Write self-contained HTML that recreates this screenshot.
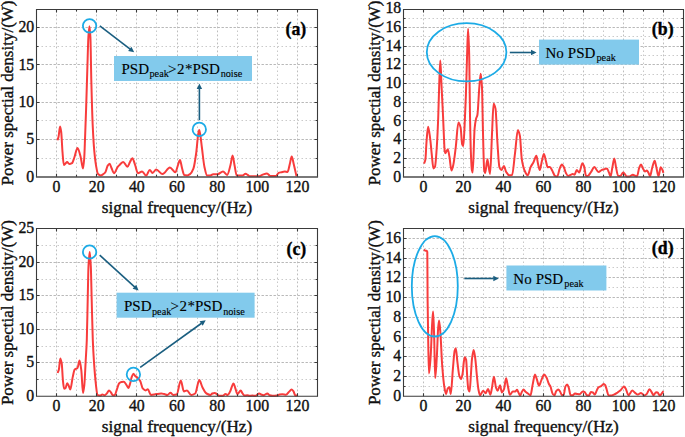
<!DOCTYPE html><html><head><meta charset="utf-8"><style>html,body{margin:0;padding:0;background:#fff;}svg{display:block;}text{font-family:"Liberation Serif",serif;stroke:#000;stroke-width:0.35px;paint-order:stroke;} text.bx{stroke-width:0.12px;}</style></head><body>
<svg width="685" height="437" viewBox="0 0 685 437">
<rect width="685" height="437" fill="#fff"/>
<line x1="56.50" y1="10.50" x2="56.50" y2="175.80" stroke="#bdbdbd" stroke-width="1" stroke-dasharray="1.8,2.2"/>
<line x1="76.50" y1="10.50" x2="76.50" y2="175.80" stroke="#c8c8c8" stroke-width="1" stroke-dasharray="1.5,2.5"/>
<line x1="96.50" y1="10.50" x2="96.50" y2="175.80" stroke="#bdbdbd" stroke-width="1" stroke-dasharray="1.8,2.2"/>
<line x1="116.50" y1="10.50" x2="116.50" y2="175.80" stroke="#c8c8c8" stroke-width="1" stroke-dasharray="1.5,2.5"/>
<line x1="136.50" y1="10.50" x2="136.50" y2="175.80" stroke="#bdbdbd" stroke-width="1" stroke-dasharray="1.8,2.2"/>
<line x1="156.50" y1="10.50" x2="156.50" y2="175.80" stroke="#c8c8c8" stroke-width="1" stroke-dasharray="1.5,2.5"/>
<line x1="177.50" y1="10.50" x2="177.50" y2="175.80" stroke="#bdbdbd" stroke-width="1" stroke-dasharray="1.8,2.2"/>
<line x1="197.50" y1="10.50" x2="197.50" y2="175.80" stroke="#c8c8c8" stroke-width="1" stroke-dasharray="1.5,2.5"/>
<line x1="217.50" y1="10.50" x2="217.50" y2="175.80" stroke="#bdbdbd" stroke-width="1" stroke-dasharray="1.8,2.2"/>
<line x1="237.50" y1="10.50" x2="237.50" y2="175.80" stroke="#c8c8c8" stroke-width="1" stroke-dasharray="1.5,2.5"/>
<line x1="257.50" y1="10.50" x2="257.50" y2="175.80" stroke="#bdbdbd" stroke-width="1" stroke-dasharray="1.8,2.2"/>
<line x1="277.50" y1="10.50" x2="277.50" y2="175.80" stroke="#c8c8c8" stroke-width="1" stroke-dasharray="1.5,2.5"/>
<line x1="297.50" y1="10.50" x2="297.50" y2="175.80" stroke="#bdbdbd" stroke-width="1" stroke-dasharray="1.8,2.2"/>
<line x1="37.50" y1="158.50" x2="316.50" y2="158.50" stroke="#cacaca" stroke-width="1" stroke-dasharray="1.5,2.5"/>
<line x1="37.50" y1="139.50" x2="316.50" y2="139.50" stroke="#b8b8b8" stroke-width="1" stroke-dasharray="2.4,1.6"/>
<line x1="37.50" y1="120.50" x2="316.50" y2="120.50" stroke="#cacaca" stroke-width="1" stroke-dasharray="1.5,2.5"/>
<line x1="37.50" y1="102.50" x2="316.50" y2="102.50" stroke="#b8b8b8" stroke-width="1" stroke-dasharray="2.4,1.6"/>
<line x1="37.50" y1="83.50" x2="316.50" y2="83.50" stroke="#cacaca" stroke-width="1" stroke-dasharray="1.5,2.5"/>
<line x1="37.50" y1="64.50" x2="316.50" y2="64.50" stroke="#b8b8b8" stroke-width="1" stroke-dasharray="2.4,1.6"/>
<line x1="37.50" y1="46.50" x2="316.50" y2="46.50" stroke="#cacaca" stroke-width="1" stroke-dasharray="1.5,2.5"/>
<line x1="37.50" y1="27.50" x2="316.50" y2="27.50" stroke="#b8b8b8" stroke-width="1" stroke-dasharray="2.4,1.6"/>
<path d="M57.40,140.30 C57.77,139.20 58.13,138.48 58.50,137.00 C59.03,134.85 59.57,126.50 60.10,126.50 C60.47,126.50 60.83,129.27 61.20,132.00 C61.63,135.22 62.07,146.75 62.50,152.00 C62.93,157.25 63.37,165.00 63.80,165.00 C64.37,165.00 64.93,164.03 65.50,163.50 C66.03,163.00 66.57,161.90 67.10,161.90 C67.83,161.90 68.57,164.00 69.30,164.00 C70.20,164.00 71.10,163.68 72.00,163.20 C72.83,162.75 73.67,159.26 74.50,157.00 C75.50,154.29 76.50,148.00 77.50,148.00 C78.53,148.00 79.57,152.95 80.60,156.70 C81.40,159.60 82.20,168.60 83.00,168.60 C83.40,168.60 83.80,163.62 84.20,158.50 C84.50,154.66 84.80,144.35 85.10,136.60 C85.43,127.99 85.77,118.93 86.10,109.00 C86.50,97.09 86.90,82.47 87.30,70.00 C87.67,58.57 88.03,42.78 88.40,37.00 C88.73,31.75 89.07,26.20 89.40,26.20 C89.73,26.20 90.07,31.06 90.40,37.00 C90.70,42.34 91.00,68.39 91.30,80.00 C91.80,99.35 92.30,116.84 92.80,127.40 C93.30,137.96 93.80,145.76 94.30,151.20 C94.90,157.73 95.50,162.53 96.10,165.90 C96.73,169.46 97.37,173.39 98.00,174.00 C98.90,174.87 99.80,175.40 100.70,175.40 C101.60,175.40 102.50,174.61 103.40,174.00 C104.10,173.52 104.80,173.02 105.50,172.00 C106.17,171.03 106.83,167.07 107.50,166.00 C108.20,164.87 108.90,163.70 109.60,163.70 C110.23,163.70 110.87,166.62 111.50,168.00 C112.33,169.81 113.17,173.20 114.00,173.20 C115.23,173.20 116.47,168.33 117.70,166.80 C118.47,165.85 119.23,165.19 120.00,164.50 C121.07,163.54 122.13,161.90 123.20,161.90 C124.60,161.90 126.00,166.80 127.40,166.80 C128.27,166.80 129.13,163.48 130.00,162.00 C130.80,160.64 131.60,158.20 132.40,158.20 C133.30,158.20 134.20,162.56 135.10,165.00 C136.03,167.53 136.97,173.20 137.90,173.20 C139.30,173.20 140.70,171.40 142.10,171.40 C143.43,171.40 144.77,175.60 146.10,175.60 C147.33,175.60 148.57,169.90 149.80,169.90 C150.70,169.90 151.60,172.90 152.50,172.90 C153.73,172.90 154.97,169.60 156.20,169.60 C158.33,169.60 160.47,174.10 162.60,174.10 C165.03,174.10 167.47,167.40 169.90,167.40 C171.73,167.40 173.57,172.30 175.40,172.30 C176.27,172.30 177.13,167.29 178.00,165.00 C178.67,163.24 179.33,160.00 180.00,160.00 C180.67,160.00 181.33,165.63 182.00,168.00 C182.73,170.60 183.47,174.81 184.20,175.00 C185.23,175.27 186.27,175.40 187.30,175.40 C188.20,175.40 189.10,174.81 190.00,174.20 C191.13,173.43 192.27,171.60 193.40,168.70 C194.33,166.31 195.27,159.68 196.20,153.00 C196.83,148.46 197.47,138.83 198.10,135.00 C198.47,132.78 198.83,129.90 199.20,129.90 C199.57,129.90 199.93,132.90 200.30,135.00 C200.83,138.06 201.37,143.37 201.90,147.50 C202.73,153.96 203.57,162.92 204.40,166.70 C205.33,170.93 206.27,175.60 207.20,175.60 C208.10,175.60 209.00,175.60 209.90,175.60 C211.03,175.60 212.17,174.20 213.30,174.20 C214.70,174.20 216.10,174.20 217.50,174.20 C219.33,174.20 221.17,171.50 223.00,171.50 C224.37,171.50 225.73,174.90 227.10,174.90 C228.23,174.90 229.37,169.10 230.50,165.00 C231.20,162.47 231.90,155.40 232.60,155.40 C233.23,155.40 233.87,161.87 234.50,165.00 C235.23,168.62 235.97,175.60 236.70,175.60 C238.53,175.60 240.37,175.60 242.20,175.60 C243.33,175.60 244.47,173.80 245.60,173.80 C246.30,173.80 247.00,174.49 247.70,174.90 C248.40,175.31 249.10,176.30 249.80,176.30 C252.77,176.30 255.73,176.30 258.70,176.30 C259.87,176.30 261.03,175.30 262.20,174.90 C263.80,174.36 265.40,173.50 267.00,173.50 C268.13,173.50 269.27,176.00 270.40,176.00 C272.23,176.00 274.07,176.00 275.90,176.00 C276.80,176.00 277.70,173.27 278.60,172.90 C279.53,172.52 280.47,172.41 281.40,172.20 C282.53,171.94 283.67,171.50 284.80,171.50 C285.73,171.50 286.67,171.90 287.60,171.90 C288.33,171.90 289.07,166.78 289.80,164.00 C290.43,161.60 291.07,156.40 291.70,156.40 C292.37,156.40 293.03,161.29 293.70,164.00 C294.63,167.79 295.57,172.20 296.50,176.30" fill="none" stroke="#f83c3c" stroke-width="2.0" stroke-linejoin="round"/>
<path d="M36.50,177.00 V9.50 H317.50 V177.00" fill="none" stroke="#3a3a3a" stroke-width="1.1"/>
<line x1="35.95" y1="177.00" x2="318.05" y2="177.00" stroke="#4c4c4c" stroke-width="1.60"/>
<path d="M56.50,176.80v-3.0 M56.50,9.50v3.0 M76.50,176.80v-2.0 M76.50,9.50v2.0 M96.50,176.80v-3.0 M96.50,9.50v3.0 M116.50,176.80v-2.0 M116.50,9.50v2.0 M136.50,176.80v-3.0 M136.50,9.50v3.0 M156.50,176.80v-2.0 M156.50,9.50v2.0 M177.50,176.80v-3.0 M177.50,9.50v3.0 M197.50,176.80v-2.0 M197.50,9.50v2.0 M217.50,176.80v-3.0 M217.50,9.50v3.0 M237.50,176.80v-2.0 M237.50,9.50v2.0 M257.50,176.80v-3.0 M257.50,9.50v3.0 M277.50,176.80v-2.0 M277.50,9.50v2.0 M297.50,176.80v-3.0 M297.50,9.50v3.0 M36.50,158.50h2.0 M317.50,158.50h-2.0 M36.50,139.50h3.0 M317.50,139.50h-3.0 M36.50,120.50h2.0 M317.50,120.50h-2.0 M36.50,102.50h3.0 M317.50,102.50h-3.0 M36.50,83.50h2.0 M317.50,83.50h-2.0 M36.50,64.50h3.0 M317.50,64.50h-3.0 M36.50,46.50h2.0 M317.50,46.50h-2.0 M36.50,27.50h3.0 M317.50,27.50h-3.0" stroke="#3a3a3a" stroke-width="1.1" fill="none"/>
<text x="56.57" y="191.60" font-size="15.8" text-anchor="middle" fill="#111">0</text>
<text x="96.71" y="191.60" font-size="15.8" text-anchor="middle" fill="#111">20</text>
<text x="136.86" y="191.60" font-size="15.8" text-anchor="middle" fill="#111">40</text>
<text x="177.00" y="191.60" font-size="15.8" text-anchor="middle" fill="#111">60</text>
<text x="217.14" y="191.60" font-size="15.8" text-anchor="middle" fill="#111">80</text>
<text x="257.29" y="191.60" font-size="15.8" text-anchor="middle" fill="#111">100</text>
<text x="297.43" y="191.60" font-size="15.8" text-anchor="middle" fill="#111">120</text>
<text x="34.20" y="181.60" font-size="15.8" text-anchor="end" fill="#111">0</text>
<text x="34.20" y="144.25" font-size="15.8" text-anchor="end" fill="#111">5</text>
<text x="34.20" y="106.90" font-size="15.8" text-anchor="end" fill="#111">10</text>
<text x="34.20" y="69.55" font-size="15.8" text-anchor="end" fill="#111">15</text>
<text x="34.20" y="32.20" font-size="15.8" text-anchor="end" fill="#111">20</text>
<text x="177.00" y="212.50" font-size="17.2" text-anchor="middle" fill="#111">signal frequency/(Hz)</text>
<line x1="423.50" y1="10.50" x2="423.50" y2="175.80" stroke="#bdbdbd" stroke-width="1" stroke-dasharray="1.8,2.2"/>
<line x1="443.50" y1="10.50" x2="443.50" y2="175.80" stroke="#c8c8c8" stroke-width="1" stroke-dasharray="1.5,2.5"/>
<line x1="463.50" y1="10.50" x2="463.50" y2="175.80" stroke="#bdbdbd" stroke-width="1" stroke-dasharray="1.8,2.2"/>
<line x1="483.50" y1="10.50" x2="483.50" y2="175.80" stroke="#c8c8c8" stroke-width="1" stroke-dasharray="1.5,2.5"/>
<line x1="503.50" y1="10.50" x2="503.50" y2="175.80" stroke="#bdbdbd" stroke-width="1" stroke-dasharray="1.8,2.2"/>
<line x1="523.50" y1="10.50" x2="523.50" y2="175.80" stroke="#c8c8c8" stroke-width="1" stroke-dasharray="1.5,2.5"/>
<line x1="543.50" y1="10.50" x2="543.50" y2="175.80" stroke="#bdbdbd" stroke-width="1" stroke-dasharray="1.8,2.2"/>
<line x1="563.50" y1="10.50" x2="563.50" y2="175.80" stroke="#c8c8c8" stroke-width="1" stroke-dasharray="1.5,2.5"/>
<line x1="583.50" y1="10.50" x2="583.50" y2="175.80" stroke="#bdbdbd" stroke-width="1" stroke-dasharray="1.8,2.2"/>
<line x1="603.50" y1="10.50" x2="603.50" y2="175.80" stroke="#c8c8c8" stroke-width="1" stroke-dasharray="1.5,2.5"/>
<line x1="623.50" y1="10.50" x2="623.50" y2="175.80" stroke="#bdbdbd" stroke-width="1" stroke-dasharray="1.8,2.2"/>
<line x1="643.50" y1="10.50" x2="643.50" y2="175.80" stroke="#c8c8c8" stroke-width="1" stroke-dasharray="1.5,2.5"/>
<line x1="663.50" y1="10.50" x2="663.50" y2="175.80" stroke="#bdbdbd" stroke-width="1" stroke-dasharray="1.8,2.2"/>
<line x1="404.50" y1="167.50" x2="682.50" y2="167.50" stroke="#cacaca" stroke-width="1" stroke-dasharray="1.5,2.5"/>
<line x1="404.50" y1="158.50" x2="682.50" y2="158.50" stroke="#b8b8b8" stroke-width="1" stroke-dasharray="2.4,1.6"/>
<line x1="404.50" y1="148.50" x2="682.50" y2="148.50" stroke="#cacaca" stroke-width="1" stroke-dasharray="1.5,2.5"/>
<line x1="404.50" y1="139.50" x2="682.50" y2="139.50" stroke="#b8b8b8" stroke-width="1" stroke-dasharray="2.4,1.6"/>
<line x1="404.50" y1="130.50" x2="682.50" y2="130.50" stroke="#cacaca" stroke-width="1" stroke-dasharray="1.5,2.5"/>
<line x1="404.50" y1="120.50" x2="682.50" y2="120.50" stroke="#b8b8b8" stroke-width="1" stroke-dasharray="2.4,1.6"/>
<line x1="404.50" y1="111.50" x2="682.50" y2="111.50" stroke="#cacaca" stroke-width="1" stroke-dasharray="1.5,2.5"/>
<line x1="404.50" y1="102.50" x2="682.50" y2="102.50" stroke="#b8b8b8" stroke-width="1" stroke-dasharray="2.4,1.6"/>
<line x1="404.50" y1="92.50" x2="682.50" y2="92.50" stroke="#cacaca" stroke-width="1" stroke-dasharray="1.5,2.5"/>
<line x1="404.50" y1="83.50" x2="682.50" y2="83.50" stroke="#b8b8b8" stroke-width="1" stroke-dasharray="2.4,1.6"/>
<line x1="404.50" y1="74.50" x2="682.50" y2="74.50" stroke="#cacaca" stroke-width="1" stroke-dasharray="1.5,2.5"/>
<line x1="404.50" y1="64.50" x2="682.50" y2="64.50" stroke="#b8b8b8" stroke-width="1" stroke-dasharray="2.4,1.6"/>
<line x1="404.50" y1="55.50" x2="682.50" y2="55.50" stroke="#cacaca" stroke-width="1" stroke-dasharray="1.5,2.5"/>
<line x1="404.50" y1="46.50" x2="682.50" y2="46.50" stroke="#b8b8b8" stroke-width="1" stroke-dasharray="2.4,1.6"/>
<line x1="404.50" y1="36.50" x2="682.50" y2="36.50" stroke="#cacaca" stroke-width="1" stroke-dasharray="1.5,2.5"/>
<line x1="404.50" y1="27.50" x2="682.50" y2="27.50" stroke="#b8b8b8" stroke-width="1" stroke-dasharray="2.4,1.6"/>
<line x1="404.50" y1="18.50" x2="682.50" y2="18.50" stroke="#cacaca" stroke-width="1" stroke-dasharray="1.5,2.5"/>
<path d="M424.10,163.60 C424.53,162.27 424.97,161.88 425.40,159.60 C425.77,157.67 426.13,146.44 426.50,142.00 C427.03,135.54 427.57,126.80 428.10,126.80 C428.80,126.80 429.50,133.65 430.20,138.80 C430.73,142.73 431.27,149.90 431.80,154.80 C432.33,159.70 432.87,168.40 433.40,168.40 C433.93,168.40 434.47,167.77 435.00,166.80 C435.53,165.83 436.07,157.34 436.60,150.00 C437.13,142.66 437.67,131.54 438.20,118.00 C438.53,109.54 438.87,93.89 439.20,85.00 C439.57,75.22 439.93,60.50 440.30,60.50 C440.70,60.50 441.10,76.91 441.50,85.00 C442.00,95.11 442.50,104.05 443.00,115.00 C443.27,120.84 443.53,128.21 443.80,134.00 C444.07,139.79 444.33,148.22 444.60,150.00 C444.87,151.78 445.13,153.20 445.40,153.20 C446.20,153.20 447.00,149.20 447.80,149.20 C448.33,149.20 448.87,153.55 449.40,156.40 C450.10,160.14 450.80,170.50 451.50,170.50 C452.13,170.50 452.77,167.19 453.40,164.40 C454.20,160.88 455.00,153.36 455.80,146.80 C456.67,139.69 457.53,122.50 458.40,122.50 C459.13,122.50 459.87,124.72 460.60,127.60 C461.13,129.70 461.67,143.10 462.20,144.40 C462.57,145.30 462.93,146.00 463.30,146.00 C463.73,146.00 464.17,134.10 464.60,126.00 C465.03,117.90 465.47,107.07 465.90,95.00 C466.30,83.85 466.70,66.69 467.10,55.00 C467.43,45.26 467.77,28.80 468.10,28.80 C468.47,28.80 468.83,41.37 469.20,55.00 C469.47,64.91 469.73,100.71 470.00,115.00 C470.33,132.87 470.67,148.54 471.00,156.00 C471.30,162.71 471.60,168.41 471.90,170.00 C472.17,171.42 472.43,172.60 472.70,172.60 C473.33,172.60 473.97,135.27 474.60,128.70 C475.07,123.86 475.53,120.89 476.00,119.00 C476.47,117.11 476.93,117.15 477.40,115.00 C478.03,112.08 478.67,94.86 479.30,87.50 C479.77,82.08 480.23,73.70 480.70,73.70 C481.13,73.70 481.57,79.74 482.00,87.50 C482.30,92.87 482.60,117.32 482.90,128.70 C483.33,145.13 483.77,167.78 484.20,170.00 C484.53,171.71 484.87,172.90 485.20,172.90 C485.93,172.90 486.67,159.30 487.40,159.30 C487.83,159.30 488.27,164.77 488.70,167.10 C489.17,169.61 489.63,173.90 490.10,173.90 C490.73,173.90 491.37,146.57 492.00,134.00 C492.53,123.41 493.07,103.80 493.60,103.80 C494.23,103.80 494.87,105.82 495.50,108.60 C496.17,111.53 496.83,134.06 497.50,143.70 C498.13,152.85 498.77,165.45 499.40,167.10 C500.07,168.84 500.73,170.00 501.40,170.00 C502.23,170.00 503.07,166.10 503.90,166.10 C504.67,166.10 505.43,170.80 506.20,172.00 C507.20,173.57 508.20,175.30 509.20,175.30 C510.17,175.30 511.13,175.20 512.10,175.00 C513.07,174.80 514.03,160.89 515.00,153.40 C515.97,145.91 516.93,130.00 517.90,130.00 C518.57,130.00 519.23,132.71 519.90,135.90 C520.53,138.93 521.17,155.40 521.80,159.30 C522.80,165.46 523.80,168.86 524.80,171.00 C525.77,173.07 526.73,175.30 527.70,175.30 C528.67,175.30 529.63,169.14 530.60,167.10 C531.57,165.06 532.53,164.05 533.50,162.20 C534.47,160.35 535.43,155.80 536.40,155.80 C536.90,155.80 537.40,161.10 537.90,163.20 C538.53,165.87 539.17,170.10 539.80,170.10 C540.50,170.10 541.20,163.60 541.90,160.90 C542.57,158.33 543.23,154.00 543.90,154.00 C544.57,154.00 545.23,158.52 545.90,160.90 C546.47,162.93 547.03,167.20 547.60,167.20 C548.37,167.20 549.13,166.90 549.90,166.90 C550.67,166.90 551.43,169.28 552.20,170.60 C553.13,172.21 554.07,175.38 555.00,175.80 C555.77,176.14 556.53,176.40 557.30,176.40 C558.07,176.40 558.83,170.72 559.60,168.90 C560.37,167.08 561.13,164.60 561.90,164.60 C562.47,164.60 563.03,165.69 563.60,166.60 C564.37,167.84 565.13,171.51 565.90,172.90 C566.67,174.29 567.43,176.00 568.20,176.00 C568.97,176.00 569.73,175.21 570.50,174.90 C571.27,174.59 572.03,174.10 572.80,174.10 C573.37,174.10 573.93,174.70 574.50,174.70 C575.27,174.70 576.03,170.10 576.80,170.10 C577.57,170.10 578.33,172.60 579.10,172.60 C580.23,172.60 581.37,163.20 582.50,163.20 C583.07,163.20 583.63,164.98 584.20,166.60 C584.80,168.32 585.40,175.66 586.00,175.80 C586.57,175.93 587.13,176.00 587.70,176.00 C588.83,176.00 589.97,173.33 591.10,171.80 C592.20,170.32 593.30,166.90 594.40,166.90 C595.03,166.90 595.67,168.71 596.30,169.50 C597.07,170.45 597.83,172.10 598.60,172.10 C599.57,172.10 600.53,170.52 601.50,170.10 C602.43,169.69 603.37,169.49 604.30,169.20 C605.17,168.93 606.03,168.40 606.90,168.40 C607.57,168.40 608.23,170.96 608.90,172.40 C609.47,173.63 610.03,176.40 610.60,176.40 C611.17,176.40 611.73,170.56 612.30,167.80 C612.97,164.55 613.63,158.40 614.30,158.40 C614.90,158.40 615.50,165.08 616.10,167.80 C616.77,170.83 617.43,175.68 618.10,175.80 C618.83,175.93 619.57,176.00 620.30,176.00 C621.27,176.00 622.23,172.60 623.20,172.60 C623.77,172.60 624.33,173.49 624.90,174.10 C625.47,174.71 626.03,176.40 626.60,176.40 C627.57,176.40 628.53,176.40 629.50,176.40 C630.63,176.40 631.77,174.70 632.90,174.70 C633.67,174.70 634.43,175.50 635.20,175.80 C635.80,176.03 636.40,176.40 637.00,176.40 C637.73,176.40 638.47,169.57 639.20,167.80 C639.80,166.35 640.40,164.60 641.00,164.60 C641.73,164.60 642.47,167.80 643.20,169.00 C643.80,169.98 644.40,171.50 645.00,171.50 C645.60,171.50 646.20,170.50 646.80,170.50 C647.40,170.50 648.00,171.94 648.60,173.00 C649.07,173.82 649.53,176.30 650.00,176.30 C650.73,176.30 651.47,170.21 652.20,167.80 C653.03,165.06 653.87,160.70 654.70,160.70 C655.20,160.70 655.70,164.57 656.20,166.60 C656.97,169.71 657.73,176.30 658.50,176.30 C659.23,176.30 659.97,167.20 660.70,167.20 C661.30,167.20 661.90,168.69 662.50,170.00 C662.80,170.65 663.10,171.93 663.40,172.90" fill="none" stroke="#f83c3c" stroke-width="2.0" stroke-linejoin="round"/>
<path d="M403.50,177.00 V9.50 H683.50 V177.00" fill="none" stroke="#3a3a3a" stroke-width="1.1"/>
<line x1="402.95" y1="177.00" x2="684.05" y2="177.00" stroke="#4c4c4c" stroke-width="1.60"/>
<path d="M423.50,176.80v-3.0 M423.50,9.50v3.0 M443.50,176.80v-2.0 M443.50,9.50v2.0 M463.50,176.80v-3.0 M463.50,9.50v3.0 M483.50,176.80v-2.0 M483.50,9.50v2.0 M503.50,176.80v-3.0 M503.50,9.50v3.0 M523.50,176.80v-2.0 M523.50,9.50v2.0 M543.50,176.80v-3.0 M543.50,9.50v3.0 M563.50,176.80v-2.0 M563.50,9.50v2.0 M583.50,176.80v-3.0 M583.50,9.50v3.0 M603.50,176.80v-2.0 M603.50,9.50v2.0 M623.50,176.80v-3.0 M623.50,9.50v3.0 M643.50,176.80v-2.0 M643.50,9.50v2.0 M663.50,176.80v-3.0 M663.50,9.50v3.0 M403.50,167.50h2.0 M683.50,167.50h-2.0 M403.50,158.50h3.0 M683.50,158.50h-3.0 M403.50,148.50h2.0 M683.50,148.50h-2.0 M403.50,139.50h3.0 M683.50,139.50h-3.0 M403.50,130.50h2.0 M683.50,130.50h-2.0 M403.50,120.50h3.0 M683.50,120.50h-3.0 M403.50,111.50h2.0 M683.50,111.50h-2.0 M403.50,102.50h3.0 M683.50,102.50h-3.0 M403.50,92.50h2.0 M683.50,92.50h-2.0 M403.50,83.50h3.0 M683.50,83.50h-3.0 M403.50,74.50h2.0 M683.50,74.50h-2.0 M403.50,64.50h3.0 M683.50,64.50h-3.0 M403.50,55.50h2.0 M683.50,55.50h-2.0 M403.50,46.50h3.0 M683.50,46.50h-3.0 M403.50,36.50h2.0 M683.50,36.50h-2.0 M403.50,27.50h3.0 M683.50,27.50h-3.0 M403.50,18.50h2.0 M683.50,18.50h-2.0" stroke="#3a3a3a" stroke-width="1.1" fill="none"/>
<text x="423.50" y="191.60" font-size="15.8" text-anchor="middle" fill="#111">0</text>
<text x="463.50" y="191.60" font-size="15.8" text-anchor="middle" fill="#111">20</text>
<text x="503.50" y="191.60" font-size="15.8" text-anchor="middle" fill="#111">40</text>
<text x="543.50" y="191.60" font-size="15.8" text-anchor="middle" fill="#111">60</text>
<text x="583.50" y="191.60" font-size="15.8" text-anchor="middle" fill="#111">80</text>
<text x="623.50" y="191.60" font-size="15.8" text-anchor="middle" fill="#111">100</text>
<text x="663.50" y="191.60" font-size="15.8" text-anchor="middle" fill="#111">120</text>
<text x="401.20" y="181.60" font-size="15.8" text-anchor="end" fill="#111">0</text>
<text x="401.20" y="162.90" font-size="15.8" text-anchor="end" fill="#111">2</text>
<text x="401.20" y="144.20" font-size="15.8" text-anchor="end" fill="#111">4</text>
<text x="401.20" y="125.50" font-size="15.8" text-anchor="end" fill="#111">6</text>
<text x="401.20" y="106.80" font-size="15.8" text-anchor="end" fill="#111">8</text>
<text x="401.20" y="88.10" font-size="15.8" text-anchor="end" fill="#111">10</text>
<text x="401.20" y="69.40" font-size="15.8" text-anchor="end" fill="#111">12</text>
<text x="401.20" y="50.70" font-size="15.8" text-anchor="end" fill="#111">14</text>
<text x="401.20" y="32.00" font-size="15.8" text-anchor="end" fill="#111">16</text>
<text x="401.20" y="13.30" font-size="15.8" text-anchor="end" fill="#111">18</text>
<text x="543.50" y="212.50" font-size="17.2" text-anchor="middle" fill="#111">signal frequency/(Hz)</text>
<line x1="56.50" y1="229.50" x2="56.50" y2="395.30" stroke="#bdbdbd" stroke-width="1" stroke-dasharray="1.8,2.2"/>
<line x1="76.50" y1="229.50" x2="76.50" y2="395.30" stroke="#c8c8c8" stroke-width="1" stroke-dasharray="1.5,2.5"/>
<line x1="96.50" y1="229.50" x2="96.50" y2="395.30" stroke="#bdbdbd" stroke-width="1" stroke-dasharray="1.8,2.2"/>
<line x1="116.50" y1="229.50" x2="116.50" y2="395.30" stroke="#c8c8c8" stroke-width="1" stroke-dasharray="1.5,2.5"/>
<line x1="136.50" y1="229.50" x2="136.50" y2="395.30" stroke="#bdbdbd" stroke-width="1" stroke-dasharray="1.8,2.2"/>
<line x1="156.50" y1="229.50" x2="156.50" y2="395.30" stroke="#c8c8c8" stroke-width="1" stroke-dasharray="1.5,2.5"/>
<line x1="177.50" y1="229.50" x2="177.50" y2="395.30" stroke="#bdbdbd" stroke-width="1" stroke-dasharray="1.8,2.2"/>
<line x1="197.50" y1="229.50" x2="197.50" y2="395.30" stroke="#c8c8c8" stroke-width="1" stroke-dasharray="1.5,2.5"/>
<line x1="217.50" y1="229.50" x2="217.50" y2="395.30" stroke="#bdbdbd" stroke-width="1" stroke-dasharray="1.8,2.2"/>
<line x1="237.50" y1="229.50" x2="237.50" y2="395.30" stroke="#c8c8c8" stroke-width="1" stroke-dasharray="1.5,2.5"/>
<line x1="257.50" y1="229.50" x2="257.50" y2="395.30" stroke="#bdbdbd" stroke-width="1" stroke-dasharray="1.8,2.2"/>
<line x1="277.50" y1="229.50" x2="277.50" y2="395.30" stroke="#c8c8c8" stroke-width="1" stroke-dasharray="1.5,2.5"/>
<line x1="297.50" y1="229.50" x2="297.50" y2="395.30" stroke="#bdbdbd" stroke-width="1" stroke-dasharray="1.8,2.2"/>
<line x1="37.50" y1="379.50" x2="316.50" y2="379.50" stroke="#cacaca" stroke-width="1" stroke-dasharray="1.5,2.5"/>
<line x1="37.50" y1="362.50" x2="316.50" y2="362.50" stroke="#b8b8b8" stroke-width="1" stroke-dasharray="2.4,1.6"/>
<line x1="37.50" y1="346.50" x2="316.50" y2="346.50" stroke="#cacaca" stroke-width="1" stroke-dasharray="1.5,2.5"/>
<line x1="37.50" y1="329.50" x2="316.50" y2="329.50" stroke="#b8b8b8" stroke-width="1" stroke-dasharray="2.4,1.6"/>
<line x1="37.50" y1="312.50" x2="316.50" y2="312.50" stroke="#cacaca" stroke-width="1" stroke-dasharray="1.5,2.5"/>
<line x1="37.50" y1="295.50" x2="316.50" y2="295.50" stroke="#b8b8b8" stroke-width="1" stroke-dasharray="2.4,1.6"/>
<line x1="37.50" y1="279.50" x2="316.50" y2="279.50" stroke="#cacaca" stroke-width="1" stroke-dasharray="1.5,2.5"/>
<line x1="37.50" y1="262.50" x2="316.50" y2="262.50" stroke="#b8b8b8" stroke-width="1" stroke-dasharray="2.4,1.6"/>
<line x1="37.50" y1="245.50" x2="316.50" y2="245.50" stroke="#cacaca" stroke-width="1" stroke-dasharray="1.5,2.5"/>
<path d="M57.60,373.00 C58.03,371.83 58.47,371.23 58.90,369.50 C59.37,367.64 59.83,358.50 60.30,358.50 C60.77,358.50 61.23,360.72 61.70,363.30 C62.13,365.70 62.57,377.28 63.00,381.20 C63.37,384.51 63.73,388.70 64.10,388.70 C64.57,388.70 65.03,388.44 65.50,388.10 C66.07,387.69 66.63,383.30 67.20,383.30 C67.63,383.30 68.07,384.51 68.50,385.30 C69.10,386.39 69.70,389.40 70.30,389.40 C71.10,389.40 71.90,380.58 72.70,377.10 C73.37,374.20 74.03,370.12 74.70,369.50 C75.63,368.64 76.57,368.96 77.50,368.10 C78.17,367.49 78.83,360.60 79.50,360.60 C80.10,360.60 80.70,365.61 81.30,370.20 C81.87,374.54 82.43,392.90 83.00,392.90 C83.43,392.90 83.87,389.08 84.30,385.30 C84.77,381.23 85.23,369.09 85.70,360.60 C86.07,353.93 86.43,349.80 86.80,340.00 C87.10,331.99 87.40,313.03 87.70,300.00 C87.97,288.42 88.23,271.10 88.50,266.00 C88.90,258.35 89.30,251.90 89.70,251.90 C90.07,251.90 90.43,258.86 90.80,266.00 C91.10,271.84 91.40,288.88 91.70,300.00 C92.07,313.60 92.43,330.94 92.80,340.00 C93.17,349.06 93.53,355.17 93.90,360.60 C94.60,370.96 95.30,379.34 96.00,385.30 C96.47,389.27 96.93,394.64 97.40,394.90 C98.30,395.40 99.20,395.60 100.10,395.60 C100.83,395.60 101.57,394.60 102.30,394.60 C103.07,394.60 103.83,395.20 104.60,395.20 C105.37,395.20 106.13,394.18 106.90,393.40 C107.60,392.69 108.30,390.40 109.00,390.40 C109.67,390.40 110.33,391.67 111.00,392.50 C111.60,393.24 112.20,395.20 112.80,395.20 C113.40,395.20 114.00,395.20 114.60,395.20 C115.37,395.20 116.13,391.28 116.90,389.30 C117.67,387.32 118.43,384.01 119.20,383.30 C119.97,382.59 120.73,382.12 121.50,382.00 C122.27,381.88 123.03,381.80 123.80,381.80 C124.57,381.80 125.33,383.32 126.10,384.30 C126.87,385.28 127.63,387.90 128.40,387.90 C129.00,387.90 129.60,385.23 130.20,383.30 C130.67,381.80 131.13,378.71 131.60,377.40 C132.20,375.72 132.80,373.70 133.40,373.70 C134.00,373.70 134.60,375.41 135.20,376.00 C135.97,376.75 136.73,377.07 137.50,377.80 C138.40,378.65 139.30,379.55 140.20,381.10 C141.03,382.54 141.87,387.37 142.70,388.30 C143.73,389.46 144.77,390.40 145.80,390.40 C146.47,390.40 147.13,389.30 147.80,389.30 C148.83,389.30 149.87,394.90 150.90,394.90 C152.63,394.90 154.37,394.33 156.10,394.10 C157.80,393.87 159.50,393.50 161.20,393.50 C162.23,393.50 163.27,393.87 164.30,394.10 C165.33,394.33 166.37,394.90 167.40,394.90 C168.43,394.90 169.47,392.80 170.50,392.80 C171.40,392.80 172.30,394.90 173.20,394.90 C174.37,394.90 175.53,394.75 176.70,394.50 C178.07,394.20 179.43,380.50 180.80,380.50 C181.83,380.50 182.87,391.40 183.90,391.40 C184.93,391.40 185.97,390.40 187.00,390.40 C188.37,390.40 189.73,394.90 191.10,394.90 C192.47,394.90 193.83,394.35 195.20,393.50 C196.57,392.65 197.93,380.10 199.30,380.10 C200.33,380.10 201.37,385.39 202.40,387.30 C203.77,389.83 205.13,392.75 206.50,393.50 C207.90,394.27 209.30,394.90 210.70,394.90 C211.23,394.90 211.77,393.72 212.30,393.50 C213.07,393.18 213.83,392.90 214.60,392.90 C215.37,392.90 216.13,393.63 216.90,394.10 C217.67,394.57 218.43,395.80 219.20,395.80 C220.33,395.80 221.47,395.80 222.60,395.80 C223.57,395.80 224.53,394.10 225.50,394.10 C226.23,394.10 226.97,394.90 227.70,394.90 C228.47,394.90 229.23,393.10 230.00,391.80 C231.17,389.82 232.33,383.40 233.50,383.40 C234.07,383.40 234.63,386.29 235.20,387.80 C235.97,389.84 236.73,394.10 237.50,394.10 C238.57,394.10 239.63,390.60 240.70,390.60 C241.33,390.60 241.97,392.66 242.60,393.50 C243.20,394.29 243.80,395.60 244.40,395.60 C245.33,395.60 246.27,395.20 247.20,395.20 C247.97,395.20 248.73,395.80 249.50,395.80 C250.47,395.80 251.43,395.60 252.40,395.60 C253.33,395.60 254.27,395.80 255.20,395.80 C256.53,395.80 257.87,393.50 259.20,393.50 C259.97,393.50 260.73,394.46 261.50,394.70 C262.27,394.94 263.03,395.20 263.80,395.20 C265.00,395.20 266.20,393.40 267.40,393.40 C268.13,393.40 268.87,394.97 269.60,395.20 C270.50,395.48 271.40,395.70 272.30,395.70 C273.83,395.70 275.37,395.63 276.90,395.50 C277.80,395.43 278.70,394.75 279.60,394.60 C280.53,394.45 281.47,394.30 282.40,394.30 C283.60,394.30 284.80,394.80 286.00,394.80 C287.07,394.80 288.13,392.62 289.20,391.60 C289.97,390.87 290.73,389.50 291.50,389.50 C292.13,389.50 292.77,390.32 293.40,391.10 C294.00,391.84 294.60,395.01 295.20,395.20 C295.80,395.39 296.40,395.40 297.00,395.50" fill="none" stroke="#f83c3c" stroke-width="2.0" stroke-linejoin="round"/>
<path d="M36.50,396.30 V228.50 H317.50 V396.30" fill="none" stroke="#3a3a3a" stroke-width="1.1"/>
<line x1="35.95" y1="396.30" x2="318.05" y2="396.30" stroke="#3a3a3a" stroke-width="1.10"/>
<path d="M56.50,396.30v-3.0 M56.50,228.50v3.0 M76.50,396.30v-2.0 M76.50,228.50v2.0 M96.50,396.30v-3.0 M96.50,228.50v3.0 M116.50,396.30v-2.0 M116.50,228.50v2.0 M136.50,396.30v-3.0 M136.50,228.50v3.0 M156.50,396.30v-2.0 M156.50,228.50v2.0 M177.50,396.30v-3.0 M177.50,228.50v3.0 M197.50,396.30v-2.0 M197.50,228.50v2.0 M217.50,396.30v-3.0 M217.50,228.50v3.0 M237.50,396.30v-2.0 M237.50,228.50v2.0 M257.50,396.30v-3.0 M257.50,228.50v3.0 M277.50,396.30v-2.0 M277.50,228.50v2.0 M297.50,396.30v-3.0 M297.50,228.50v3.0 M36.50,379.50h2.0 M317.50,379.50h-2.0 M36.50,362.50h3.0 M317.50,362.50h-3.0 M36.50,346.50h2.0 M317.50,346.50h-2.0 M36.50,329.50h3.0 M317.50,329.50h-3.0 M36.50,312.50h2.0 M317.50,312.50h-2.0 M36.50,295.50h3.0 M317.50,295.50h-3.0 M36.50,279.50h2.0 M317.50,279.50h-2.0 M36.50,262.50h3.0 M317.50,262.50h-3.0 M36.50,245.50h2.0 M317.50,245.50h-2.0" stroke="#3a3a3a" stroke-width="1.1" fill="none"/>
<text x="56.57" y="411.10" font-size="15.8" text-anchor="middle" fill="#111">0</text>
<text x="96.71" y="411.10" font-size="15.8" text-anchor="middle" fill="#111">20</text>
<text x="136.86" y="411.10" font-size="15.8" text-anchor="middle" fill="#111">40</text>
<text x="177.00" y="411.10" font-size="15.8" text-anchor="middle" fill="#111">60</text>
<text x="217.14" y="411.10" font-size="15.8" text-anchor="middle" fill="#111">80</text>
<text x="257.29" y="411.10" font-size="15.8" text-anchor="middle" fill="#111">100</text>
<text x="297.43" y="411.10" font-size="15.8" text-anchor="middle" fill="#111">120</text>
<text x="34.20" y="400.85" font-size="15.8" text-anchor="end" fill="#111">0</text>
<text x="34.20" y="367.35" font-size="15.8" text-anchor="end" fill="#111">5</text>
<text x="34.20" y="333.85" font-size="15.8" text-anchor="end" fill="#111">10</text>
<text x="34.20" y="300.35" font-size="15.8" text-anchor="end" fill="#111">15</text>
<text x="34.20" y="266.85" font-size="15.8" text-anchor="end" fill="#111">20</text>
<text x="34.20" y="233.35" font-size="15.8" text-anchor="end" fill="#111">25</text>
<text x="177.00" y="432.00" font-size="17.2" text-anchor="middle" fill="#111">signal frequency/(Hz)</text>
<line x1="423.50" y1="229.50" x2="423.50" y2="395.30" stroke="#bdbdbd" stroke-width="1" stroke-dasharray="1.8,2.2"/>
<line x1="443.50" y1="229.50" x2="443.50" y2="395.30" stroke="#c8c8c8" stroke-width="1" stroke-dasharray="1.5,2.5"/>
<line x1="463.50" y1="229.50" x2="463.50" y2="395.30" stroke="#bdbdbd" stroke-width="1" stroke-dasharray="1.8,2.2"/>
<line x1="483.50" y1="229.50" x2="483.50" y2="395.30" stroke="#c8c8c8" stroke-width="1" stroke-dasharray="1.5,2.5"/>
<line x1="503.50" y1="229.50" x2="503.50" y2="395.30" stroke="#bdbdbd" stroke-width="1" stroke-dasharray="1.8,2.2"/>
<line x1="523.50" y1="229.50" x2="523.50" y2="395.30" stroke="#c8c8c8" stroke-width="1" stroke-dasharray="1.5,2.5"/>
<line x1="543.50" y1="229.50" x2="543.50" y2="395.30" stroke="#bdbdbd" stroke-width="1" stroke-dasharray="1.8,2.2"/>
<line x1="563.50" y1="229.50" x2="563.50" y2="395.30" stroke="#c8c8c8" stroke-width="1" stroke-dasharray="1.5,2.5"/>
<line x1="583.50" y1="229.50" x2="583.50" y2="395.30" stroke="#bdbdbd" stroke-width="1" stroke-dasharray="1.8,2.2"/>
<line x1="603.50" y1="229.50" x2="603.50" y2="395.30" stroke="#c8c8c8" stroke-width="1" stroke-dasharray="1.5,2.5"/>
<line x1="623.50" y1="229.50" x2="623.50" y2="395.30" stroke="#bdbdbd" stroke-width="1" stroke-dasharray="1.8,2.2"/>
<line x1="643.50" y1="229.50" x2="643.50" y2="395.30" stroke="#c8c8c8" stroke-width="1" stroke-dasharray="1.5,2.5"/>
<line x1="663.50" y1="229.50" x2="663.50" y2="395.30" stroke="#bdbdbd" stroke-width="1" stroke-dasharray="1.8,2.2"/>
<line x1="404.50" y1="386.50" x2="682.50" y2="386.50" stroke="#cacaca" stroke-width="1" stroke-dasharray="1.5,2.5"/>
<line x1="404.50" y1="376.50" x2="682.50" y2="376.50" stroke="#b8b8b8" stroke-width="1" stroke-dasharray="2.4,1.6"/>
<line x1="404.50" y1="366.50" x2="682.50" y2="366.50" stroke="#cacaca" stroke-width="1" stroke-dasharray="1.5,2.5"/>
<line x1="404.50" y1="356.50" x2="682.50" y2="356.50" stroke="#b8b8b8" stroke-width="1" stroke-dasharray="2.4,1.6"/>
<line x1="404.50" y1="347.50" x2="682.50" y2="347.50" stroke="#cacaca" stroke-width="1" stroke-dasharray="1.5,2.5"/>
<line x1="404.50" y1="337.50" x2="682.50" y2="337.50" stroke="#b8b8b8" stroke-width="1" stroke-dasharray="2.4,1.6"/>
<line x1="404.50" y1="327.50" x2="682.50" y2="327.50" stroke="#cacaca" stroke-width="1" stroke-dasharray="1.5,2.5"/>
<line x1="404.50" y1="317.50" x2="682.50" y2="317.50" stroke="#b8b8b8" stroke-width="1" stroke-dasharray="2.4,1.6"/>
<line x1="404.50" y1="307.50" x2="682.50" y2="307.50" stroke="#cacaca" stroke-width="1" stroke-dasharray="1.5,2.5"/>
<line x1="404.50" y1="297.50" x2="682.50" y2="297.50" stroke="#b8b8b8" stroke-width="1" stroke-dasharray="2.4,1.6"/>
<line x1="404.50" y1="287.50" x2="682.50" y2="287.50" stroke="#cacaca" stroke-width="1" stroke-dasharray="1.5,2.5"/>
<line x1="404.50" y1="277.50" x2="682.50" y2="277.50" stroke="#b8b8b8" stroke-width="1" stroke-dasharray="2.4,1.6"/>
<line x1="404.50" y1="267.50" x2="682.50" y2="267.50" stroke="#cacaca" stroke-width="1" stroke-dasharray="1.5,2.5"/>
<line x1="404.50" y1="258.50" x2="682.50" y2="258.50" stroke="#b8b8b8" stroke-width="1" stroke-dasharray="2.4,1.6"/>
<line x1="404.50" y1="248.50" x2="682.50" y2="248.50" stroke="#cacaca" stroke-width="1" stroke-dasharray="1.5,2.5"/>
<line x1="404.50" y1="238.50" x2="682.50" y2="238.50" stroke="#b8b8b8" stroke-width="1" stroke-dasharray="2.4,1.6"/>
<path d="M424.00,249.50 C424.50,249.93 425.00,250.80 425.50,250.80 C425.87,250.80 426.23,250.70 426.60,250.70 C426.83,250.70 427.07,251.01 427.30,252.00 C427.40,252.42 427.50,290.15 427.60,300.00 C427.83,322.99 428.07,334.44 428.30,345.90 C428.53,357.36 428.77,373.40 429.00,373.40 C429.53,373.40 430.07,364.61 430.60,357.30 C431.13,349.99 431.67,331.20 432.20,322.90 C432.50,318.23 432.80,311.50 433.10,311.50 C433.43,311.50 433.77,324.76 434.10,334.40 C434.47,345.00 434.83,378.00 435.20,378.00 C435.73,378.00 436.27,365.93 436.80,357.30 C437.27,349.75 437.73,332.59 438.20,327.50 C438.50,324.23 438.80,320.60 439.10,320.60 C439.57,320.60 440.03,328.42 440.50,334.40 C441.03,341.23 441.57,357.13 442.10,364.20 C442.87,374.36 443.63,382.73 444.40,387.20 C444.93,390.31 445.47,394.00 446.00,394.00 C446.60,394.00 447.20,388.97 447.80,388.30 C448.33,387.70 448.87,387.20 449.40,387.20 C449.87,387.20 450.33,394.00 450.80,394.00 C451.50,394.00 452.20,376.49 452.90,368.80 C453.50,362.21 454.10,352.48 454.70,350.50 C455.07,349.29 455.43,348.20 455.80,348.20 C456.33,348.20 456.87,357.70 457.40,361.90 C458.03,366.89 458.67,373.81 459.30,375.70 C459.90,377.49 460.50,379.10 461.10,379.10 C461.63,379.10 462.17,376.03 462.70,373.00 C463.07,370.92 463.43,364.37 463.80,362.00 C464.13,359.85 464.47,357.20 464.80,357.20 C465.23,357.20 465.67,358.14 466.10,359.60 C466.47,360.83 466.83,371.56 467.20,376.40 C467.57,381.24 467.93,388.01 468.30,389.20 C468.73,390.61 469.17,391.60 469.60,391.60 C470.03,391.60 470.47,380.74 470.90,374.80 C471.27,369.77 471.63,361.81 472.00,358.80 C472.53,354.42 473.07,350.00 473.60,350.00 C474.13,350.00 474.67,354.39 475.20,358.00 C475.73,361.61 476.27,369.63 476.80,374.80 C477.33,379.97 477.87,386.34 478.40,389.20 C478.93,392.06 479.47,395.30 480.00,395.30 C481.07,395.30 482.13,390.80 483.20,390.80 C484.00,390.80 484.80,393.20 485.60,393.20 C486.40,393.20 487.20,388.90 488.00,388.90 C488.80,388.90 489.60,394.80 490.40,394.80 C490.93,394.80 491.47,390.28 492.00,387.60 C492.63,384.42 493.27,376.70 493.90,376.70 C494.60,376.70 495.30,385.62 496.00,387.60 C496.53,389.11 497.07,390.80 497.60,390.80 C498.40,390.80 499.20,385.20 500.00,385.20 C500.63,385.20 501.27,392.40 501.90,392.40 C502.60,392.40 503.30,390.85 504.00,389.20 C504.70,387.55 505.40,378.30 506.10,378.30 C506.73,378.30 507.37,384.05 508.00,386.80 C508.63,389.55 509.27,394.80 509.90,394.80 C510.87,394.80 511.83,391.60 512.80,391.60 C513.60,391.60 514.40,391.60 515.20,391.60 C515.83,391.60 516.47,389.80 517.10,389.80 C517.53,389.80 517.97,391.58 518.40,392.40 C519.00,393.53 519.60,395.60 520.20,395.60 C520.77,395.60 521.33,392.76 521.90,391.80 C522.47,390.84 523.03,389.50 523.60,389.50 C524.17,389.50 524.73,390.96 525.30,391.50 C526.07,392.23 526.83,392.75 527.60,393.30 C528.57,393.99 529.53,395.20 530.50,395.20 C531.23,395.20 531.97,387.75 532.70,384.40 C533.47,380.90 534.23,374.60 535.00,374.60 C535.60,374.60 536.20,377.56 536.80,379.20 C537.53,381.20 538.27,385.70 539.00,385.70 C539.77,385.70 540.53,381.95 541.30,380.30 C542.27,378.22 543.23,374.60 544.20,374.60 C544.97,374.60 545.73,376.18 546.50,377.50 C547.27,378.82 548.03,382.24 548.80,383.80 C549.37,384.95 549.93,385.38 550.50,386.60 C551.27,388.25 552.03,393.30 552.80,394.10 C553.37,394.69 553.93,395.20 554.50,395.20 C555.07,395.20 555.63,391.89 556.20,391.20 C556.90,390.34 557.60,389.50 558.30,389.50 C558.93,389.50 559.57,390.86 560.20,391.80 C560.80,392.69 561.40,395.20 562.00,395.20 C562.57,395.20 563.13,395.01 563.70,394.70 C564.27,394.39 564.83,387.67 565.40,386.60 C565.97,385.53 566.53,384.60 567.10,384.60 C567.67,384.60 568.23,386.32 568.80,387.80 C569.37,389.28 569.93,394.89 570.50,395.00 C571.23,395.14 571.97,395.20 572.70,395.20 C573.47,395.20 574.23,393.40 575.00,393.40 C575.77,393.40 576.53,393.87 577.30,394.00 C578.07,394.13 578.83,394.30 579.60,394.30 C580.67,394.30 581.73,391.60 582.80,391.60 C583.40,391.60 584.00,391.78 584.60,392.00 C585.37,392.29 586.13,394.99 586.90,395.20 C587.53,395.38 588.17,395.50 588.80,395.50 C589.53,395.50 590.27,392.00 591.00,392.00 C591.63,392.00 592.27,392.23 592.90,392.50 C593.50,392.76 594.10,394.60 594.70,394.60 C595.30,394.60 595.90,392.27 596.50,391.10 C597.13,389.87 597.77,387.91 598.40,387.40 C599.30,386.68 600.20,386.63 601.10,386.10 C602.03,385.55 602.97,384.00 603.90,384.00 C604.33,384.00 604.77,384.60 605.20,385.20 C605.67,385.85 606.13,387.86 606.60,389.30 C607.20,391.15 607.80,395.04 608.40,395.20 C609.17,395.40 609.93,395.50 610.70,395.50 C611.77,395.50 612.83,395.00 613.90,394.60 C615.13,394.14 616.37,393.28 617.60,392.50 C618.50,391.93 619.40,391.37 620.30,390.60 C621.53,389.55 622.77,386.50 624.00,386.50 C624.60,386.50 625.20,387.81 625.80,388.80 C626.67,390.23 627.53,395.20 628.40,395.20 C629.70,395.20 631.00,390.60 632.30,390.60 C633.23,390.60 634.17,392.24 635.10,392.90 C636.00,393.54 636.90,394.60 637.80,394.60 C638.87,394.60 639.93,392.90 641.00,392.90 C642.07,392.90 643.13,395.50 644.20,395.50 C644.97,395.50 645.73,394.90 646.50,394.30 C647.50,393.52 648.50,389.30 649.50,389.30 C650.33,389.30 651.17,391.61 652.00,392.90 C652.47,393.62 652.93,395.20 653.40,395.20 C654.30,395.20 655.20,392.20 656.10,392.20 C656.57,392.20 657.03,392.34 657.50,392.50 C658.27,392.77 659.03,395.50 659.80,395.50 C661.00,395.50 662.20,392.57 663.40,391.10" fill="none" stroke="#f83c3c" stroke-width="2.0" stroke-linejoin="round"/>
<path d="M403.50,396.30 V228.50 H683.50 V396.30" fill="none" stroke="#3a3a3a" stroke-width="1.1"/>
<line x1="402.95" y1="396.30" x2="684.05" y2="396.30" stroke="#3a3a3a" stroke-width="1.10"/>
<path d="M423.50,396.30v-3.0 M423.50,228.50v3.0 M443.50,396.30v-2.0 M443.50,228.50v2.0 M463.50,396.30v-3.0 M463.50,228.50v3.0 M483.50,396.30v-2.0 M483.50,228.50v2.0 M503.50,396.30v-3.0 M503.50,228.50v3.0 M523.50,396.30v-2.0 M523.50,228.50v2.0 M543.50,396.30v-3.0 M543.50,228.50v3.0 M563.50,396.30v-2.0 M563.50,228.50v2.0 M583.50,396.30v-3.0 M583.50,228.50v3.0 M603.50,396.30v-2.0 M603.50,228.50v2.0 M623.50,396.30v-3.0 M623.50,228.50v3.0 M643.50,396.30v-2.0 M643.50,228.50v2.0 M663.50,396.30v-3.0 M663.50,228.50v3.0 M403.50,386.50h2.0 M683.50,386.50h-2.0 M403.50,376.50h3.0 M683.50,376.50h-3.0 M403.50,366.50h2.0 M683.50,366.50h-2.0 M403.50,356.50h3.0 M683.50,356.50h-3.0 M403.50,347.50h2.0 M683.50,347.50h-2.0 M403.50,337.50h3.0 M683.50,337.50h-3.0 M403.50,327.50h2.0 M683.50,327.50h-2.0 M403.50,317.50h3.0 M683.50,317.50h-3.0 M403.50,307.50h2.0 M683.50,307.50h-2.0 M403.50,297.50h3.0 M683.50,297.50h-3.0 M403.50,287.50h2.0 M683.50,287.50h-2.0 M403.50,277.50h3.0 M683.50,277.50h-3.0 M403.50,267.50h2.0 M683.50,267.50h-2.0 M403.50,258.50h3.0 M683.50,258.50h-3.0 M403.50,248.50h2.0 M683.50,248.50h-2.0 M403.50,238.50h3.0 M683.50,238.50h-3.0" stroke="#3a3a3a" stroke-width="1.1" fill="none"/>
<text x="423.50" y="411.10" font-size="15.8" text-anchor="middle" fill="#111">0</text>
<text x="463.50" y="411.10" font-size="15.8" text-anchor="middle" fill="#111">20</text>
<text x="503.50" y="411.10" font-size="15.8" text-anchor="middle" fill="#111">40</text>
<text x="543.50" y="411.10" font-size="15.8" text-anchor="middle" fill="#111">60</text>
<text x="583.50" y="411.10" font-size="15.8" text-anchor="middle" fill="#111">80</text>
<text x="623.50" y="411.10" font-size="15.8" text-anchor="middle" fill="#111">100</text>
<text x="663.50" y="411.10" font-size="15.8" text-anchor="middle" fill="#111">120</text>
<text x="401.20" y="401.00" font-size="15.8" text-anchor="end" fill="#111">0</text>
<text x="401.20" y="381.24" font-size="15.8" text-anchor="end" fill="#111">2</text>
<text x="401.20" y="361.48" font-size="15.8" text-anchor="end" fill="#111">4</text>
<text x="401.20" y="341.72" font-size="15.8" text-anchor="end" fill="#111">6</text>
<text x="401.20" y="321.96" font-size="15.8" text-anchor="end" fill="#111">8</text>
<text x="401.20" y="302.20" font-size="15.8" text-anchor="end" fill="#111">10</text>
<text x="401.20" y="282.44" font-size="15.8" text-anchor="end" fill="#111">12</text>
<text x="401.20" y="262.68" font-size="15.8" text-anchor="end" fill="#111">14</text>
<text x="401.20" y="242.92" font-size="15.8" text-anchor="end" fill="#111">16</text>
<text x="543.50" y="432.00" font-size="17.2" text-anchor="middle" fill="#111">signal frequency/(Hz)</text>
<text transform="translate(13.40,93.00)  rotate(-90) scale(1,1.03)" font-size="17.0" text-anchor="middle" fill="#111">Power spectial density/(W)</text>
<text transform="translate(380.00,93.00)  rotate(-90) scale(1,1.03)" font-size="17.0" text-anchor="middle" fill="#111">Power spectial density/(W)</text>
<text transform="translate(13.40,312.60)  rotate(-90) scale(1,1.03)" font-size="17.0" text-anchor="middle" fill="#111">Power spectial density/(W)</text>
<text transform="translate(380.00,312.60)  rotate(-90) scale(1,1.03)" font-size="17.0" text-anchor="middle" fill="#111">Power spectial density/(W)</text>
<text x="306.30" y="34.60" font-size="17.8" font-weight="bold" text-anchor="end" fill="#000">(a)</text>
<text x="673.60" y="34.90" font-size="17.8" font-weight="bold" text-anchor="end" fill="#000">(b)</text>
<text x="306.30" y="254.60" font-size="17.8" font-weight="bold" text-anchor="end" fill="#000">(c)</text>
<text x="673.60" y="254.00" font-size="17.8" font-weight="bold" text-anchor="end" fill="#000">(d)</text>
<circle cx="89.6" cy="25.8" r="6.7" fill="none" stroke="#1cabe6" stroke-width="1.8"/>
<circle cx="199.3" cy="129.4" r="6.7" fill="none" stroke="#1cabe6" stroke-width="1.8"/>
<line x1="99.80" y1="25.90" x2="130.15" y2="49.10" stroke="#1a5e80" stroke-width="1.60"/><path d="M134.20,52.20 L128.11,50.94 L131.39,46.65 Z" fill="#1a5e80"/>
<line x1="199.40" y1="120.20" x2="199.40" y2="88.50" stroke="#1a5e80" stroke-width="1.60"/><path d="M199.40,83.40 L202.10,89.00 L196.70,89.00 Z" fill="#1a5e80"/>
<rect x="114.00" y="56.00" width="138" height="25" fill="#82caec"/><text class="bx" x="121.50" y="73.70" font-size="15.0" fill="#000">PSD</text><text class="bx" x="149.50" y="77.30" font-size="10.9" textLength="19.3" lengthAdjust="spacingAndGlyphs" fill="#000">peak</text><text class="bx" x="168.00" y="73.70" font-size="15.0" fill="#000">&gt;</text><text class="bx" x="177.00" y="73.70" font-size="15.0" fill="#000">2</text><text class="bx" x="185.10" y="73.70" font-size="15.0" fill="#000">*</text><text class="bx" x="192.40" y="73.70" font-size="15.0" fill="#000">PSD</text><text class="bx" x="220.70" y="77.30" font-size="10.9" textLength="21.5" lengthAdjust="spacingAndGlyphs" fill="#000">noise</text>
<ellipse cx="466.6" cy="52.3" rx="39.8" ry="29.1" fill="none" stroke="#1cabe6" stroke-width="1.8"/>
<line x1="509.80" y1="52.50" x2="531.50" y2="52.50" stroke="#1a5e80" stroke-width="1.60"/><path d="M536.60,52.50 L531.00,55.20 L531.00,49.80 Z" fill="#1a5e80"/>
<rect x="539.00" y="39.60" width="100" height="25" fill="#82caec"/><text class="bx" x="545.40" y="57.80" font-size="15" fill="#000">No</text><text class="bx" x="567.80" y="57.80" font-size="15" fill="#000">PSD</text><text class="bx" x="596.50" y="61.40" font-size="10.9" textLength="19.3" lengthAdjust="spacingAndGlyphs" fill="#000">peak</text>
<circle cx="89.6" cy="252.0" r="6.7" fill="none" stroke="#1cabe6" stroke-width="1.8"/>
<circle cx="133.4" cy="374.4" r="6.7" fill="none" stroke="#1cabe6" stroke-width="1.8"/>
<line x1="99.70" y1="255.10" x2="134.83" y2="287.16" stroke="#1a5e80" stroke-width="1.60"/><path d="M138.60,290.60 L132.64,288.82 L136.28,284.83 Z" fill="#1a5e80"/>
<line x1="140.20" y1="367.30" x2="201.56" y2="323.27" stroke="#1a5e80" stroke-width="1.60"/><path d="M205.70,320.30 L202.72,325.76 L199.58,321.37 Z" fill="#1a5e80"/>
<rect x="116.60" y="292.70" width="138" height="25" fill="#82caec"/><text class="bx" x="124.00" y="310.90" font-size="15.0" fill="#000">PSD</text><text class="bx" x="152.00" y="314.50" font-size="10.9" textLength="19.3" lengthAdjust="spacingAndGlyphs" fill="#000">peak</text><text class="bx" x="170.50" y="310.90" font-size="15.0" fill="#000">&gt;</text><text class="bx" x="179.50" y="310.90" font-size="15.0" fill="#000">2</text><text class="bx" x="187.60" y="310.90" font-size="15.0" fill="#000">*</text><text class="bx" x="194.90" y="310.90" font-size="15.0" fill="#000">PSD</text><text class="bx" x="223.20" y="314.50" font-size="10.9" textLength="21.5" lengthAdjust="spacingAndGlyphs" fill="#000">noise</text>
<ellipse cx="434.8" cy="286.3" rx="23.0" ry="50.2" fill="none" stroke="#1cabe6" stroke-width="1.8"/>
<line x1="464.30" y1="278.50" x2="493.80" y2="278.50" stroke="#1a5e80" stroke-width="1.60"/><path d="M498.90,278.50 L493.30,281.20 L493.30,275.80 Z" fill="#1a5e80"/>
<rect x="506.40" y="265.50" width="100" height="25" fill="#82caec"/><text class="bx" x="513.30" y="283.80" font-size="15" fill="#000">No</text><text class="bx" x="535.70" y="283.80" font-size="15" fill="#000">PSD</text><text class="bx" x="564.30" y="287.40" font-size="10.9" textLength="19.3" lengthAdjust="spacingAndGlyphs" fill="#000">peak</text>
</svg></body></html>
